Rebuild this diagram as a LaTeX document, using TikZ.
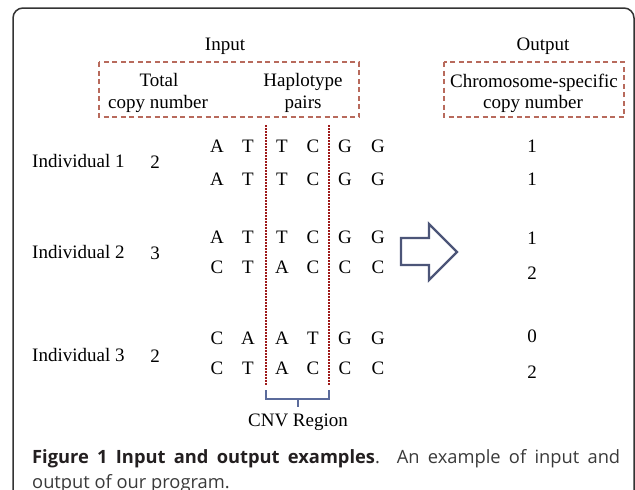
\documentclass[tikz,border=0pt]{standalone}
\usepackage{fontspec}
\setmainfont{Liberation Serif}
\newfontfamily\capfont{Open Sans}
\definecolor{framecol}{HTML}{333333}
\definecolor{boxcol}{HTML}{B86A5C}
\definecolor{cnvcol}{HTML}{9E1B1B}
\definecolor{brackcol}{HTML}{5B6B9B}
\definecolor{arrowcol}{HTML}{4C5578}
\definecolor{capcol}{HTML}{231F20}
\definecolor{capcol2}{HTML}{3A3A3A}
\begin{document}
\begin{tikzpicture}[x=1pt,y=-1pt,
  txt/.style={inner sep=0pt, anchor=base, font=\fontsize{19}{22}\selectfont},
  lefttxt/.style={txt, anchor=base west},
  dashbox/.style={draw=boxcol, line width=1.1pt, dash pattern=on 5pt off 3.5pt},
  cnvline/.style={draw=cnvcol, line width=1.6pt, dash pattern=on 2pt off 1pt},
  brack/.style={draw=brackcol, line width=1.4pt},
  bigarrow/.style={draw=arrowcol, line width=2.4pt, fill=white, line join=miter},
  captxt/.style={inner sep=0pt, anchor=base west, text=capcol2, font=\capfont\fontsize{18.3}{22}\selectfont}]
\clip (0,0) rectangle (635,490);
\fill[white] (0,0) rectangle (635,490);
% frame
\draw[framecol, line width=1.5pt, rounded corners=10pt] (13,560) -- (13,8) -- (634,8) -- (634,560);
% headers
\node[txt] (input) at (225,50) {Input};
\node[txt] (output) at (543,50) {Output};
\draw[dashbox] (99,62) rectangle (359,117);
\draw[dashbox] (444,62) rectangle (624,117);
\node[txt] (total) at (159,86) {Total};
\node[txt] (copyn) at (158,108) {copy number};
\node[txt] (haplo) at (303,86) {Haplotype};
\node[txt] (pairs) at (303,108) {pairs};
\node[txt] (chrom) at (534,87) {Chromosome-specific};
\node[txt] (copyn2) at (533,108) {copy number};
% CNV lines
\draw[cnvline] (266,125) -- (266,385);
\draw[cnvline] (329,125) -- (329,385);
% individuals
\node[lefttxt] (ind1) at (32,167) {Individual 1};
\node[lefttxt] (ind2) at (32,258) {Individual 2};
\node[lefttxt] (ind3) at (32,361) {Individual 3};
\node[txt] (tc1) at (155,168) {2};
\node[txt] (tc2) at (155,259) {3};
\node[txt] (tc3) at (155,362) {2};
% haplotypes
\foreach \row/\y/\seq in {a/152/{A,T,T,C,G,G}, b/185/{A,T,T,C,G,G}, c/243/{A,T,T,C,G,G}, d/273/{C,T,A,C,C,C}, e/344/{C,A,A,T,G,G}, f/374/{C,T,A,C,C,C}}{
  \foreach \ch [count=\i] in \seq {
    \pgfmathsetmacro{\xx}{{217,248,282,313,345,378}[\i-1]}
    \node[txt] (h\row\i) at (\xx,\y) {\ch};
  }
}
% outputs
\node[txt] (o1) at (532,152) {1};
\node[txt] (o2) at (532,185) {1};
\node[txt] (o3) at (532,244) {1};
\node[txt] (o4) at (532,279) {2};
\node[txt] (o5) at (532,342) {0};
\node[txt] (o6) at (532,378) {2};
% arrow
\draw[bigarrow] (401,238) -- (429,238) -- (429,224) -- (457,252) -- (429,280) -- (429,265) -- (401,265) -- cycle;
% bracket
\draw[brack] (266,390) -- (266,399) -- (329,399) -- (329,390);
\draw[brack] (298,399) -- (298,407);
\node[txt] (cnv) at (298,426) {CNV Region};
% caption
\node[captxt] (cap1) at (32,463) {\makebox[588pt][s]{\textcolor{capcol}{\textbf{Figure 1 Input and output examples}}. An example of input and}};
\node[captxt] (cap2) at (32,488) {output of our program.};
\end{tikzpicture}
\end{document}
